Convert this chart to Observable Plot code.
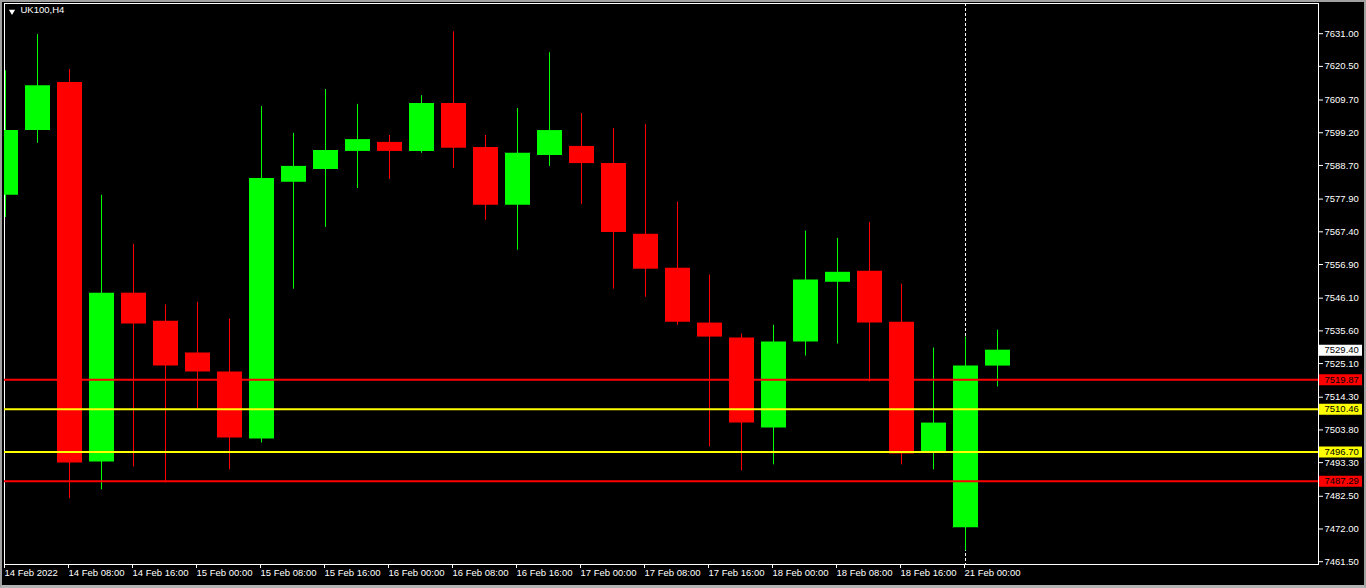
<!DOCTYPE html>
<html><head><meta charset="utf-8">
<script src="https://cdn.jsdelivr.net/npm/d3@7"></script>
<script src="https://cdn.jsdelivr.net/npm/@observablehq/plot@0.6"></script>
<style>
html,body{margin:0;padding:0;background:#000;}
#wrap{position:relative;width:1366px;height:588px;overflow:hidden;background:#000;}
#chrome{position:absolute;left:0;top:0;width:1366px;height:588px;box-sizing:border-box;border-left:2px solid #a0a0a0;border-top:2px solid #a0a0a0;border-right:2px solid #a0a0a0;border-bottom:3px solid #b4b4b4;pointer-events:none;}
svg{display:block;}
</style></head><body>
<div id="wrap"><div id="chart"></div><div id="chrome"></div></div>
<script>
// ---- data (UK100, H4) ----
const barTimes = [
  "14 Feb 00:00","14 Feb 04:00","14 Feb 08:00","14 Feb 12:00","14 Feb 16:00","14 Feb 20:00",
  "15 Feb 00:00","15 Feb 04:00","15 Feb 08:00","15 Feb 12:00","15 Feb 16:00","15 Feb 20:00",
  "16 Feb 00:00","16 Feb 04:00","16 Feb 08:00","16 Feb 12:00","16 Feb 16:00","16 Feb 20:00",
  "17 Feb 00:00","17 Feb 04:00","17 Feb 08:00","17 Feb 12:00","17 Feb 16:00","17 Feb 20:00",
  "18 Feb 00:00","18 Feb 04:00","18 Feb 08:00","18 Feb 12:00","18 Feb 16:00","18 Feb 20:00",
  "21 Feb 00:00","21 Feb 04:00"
];
const opens  = [7579.1,7599.9,7615.3,7493.5,7547.7,7538.7,7528.5,7522.4,7500.9,7583.3,7587.4,7593.2,7596.1,7593.2,7608.6,7594.5,7575.9,7591.9,7594.8,7589.3,7566.6,7555.7,7538.1,7533.3,7504.4,7532.0,7551.2,7554.7,7538.4,7496.4,7472.4,7524.3];
const highs  = [7619.1,7630.7,7619.5,7579.1,7563.4,7543.9,7544.8,7539.4,7607.6,7599.0,7613.1,7608.3,7598.3,7611.1,7631.6,7598.3,7607.0,7624.9,7605.4,7600.6,7601.8,7576.9,7553.5,7534.6,7537.4,7567.6,7565.3,7570.4,7550.6,7530.1,7533.6,7535.8];
const lows   = [7572.0,7595.8,7481.7,7484.6,7491.9,7486.8,7510.5,7491.0,7499.6,7549.0,7568.8,7581.3,7584.2,7592.6,7587.7,7571.1,7561.5,7588.4,7576.2,7549.0,7546.4,7537.4,7498.4,7490.7,7492.6,7527.5,7531.4,7519.2,7492.6,7491.0,7465.0,7517.6];
const closes = [7599.9,7614.3,7493.2,7547.7,7537.8,7524.3,7522.4,7501.2,7584.5,7588.4,7593.5,7597.0,7593.2,7608.6,7594.2,7575.9,7592.6,7599.9,7589.3,7567.2,7555.4,7538.4,7533.6,7506.0,7532.0,7551.9,7554.4,7538.1,7496.1,7506.0,7524.3,7529.4];

const xTickIndex  = [0,2,4,6,8,10,12,14,16,18,20,22,24,26,28,30];
const xTickLabels = ["14 Feb 2022","14 Feb 08:00","14 Feb 16:00","15 Feb 00:00","15 Feb 08:00","15 Feb 16:00","16 Feb 00:00","16 Feb 08:00","16 Feb 16:00","17 Feb 00:00","17 Feb 08:00","17 Feb 16:00","18 Feb 00:00","18 Feb 08:00","18 Feb 16:00","21 Feb 00:00"];
const yTicks = [7631.00,7620.50,7609.70,7599.20,7588.70,7577.90,7567.40,7556.90,7546.10,7535.60,7525.10,7514.30,7503.80,7493.30,7482.50,7472.00,7461.50];

const levelPrices = [7519.87, 7510.46, 7496.70, 7487.29];
const levelColors = ["#ff0000", "#ffff00", "#ffff00", "#ff0000"];
const currentPrice = 7529.40;
const separatorIndex = 30;
const symbolTitle = "UK100,H4";

// ---- build ----
const bars = barTimes.map((t, i) => ({i, t, open: opens[i], high: highs[i], low: lows[i], close: closes[i]}));
const bulls = bars.filter(d => d.close >= d.open);
const bears = bars.filter(d => d.close < d.open);
const levels = levelPrices.map((p, k) => ({price: p, color: levelColors[k]}));
const priceTags = levels.concat([{price: currentPrice, color: "#ffffff"}]);
const tickLabelByIndex = new Map(xTickIndex.map((v, k) => [v, xTickLabels[k]]));

// layout
const W = 1366, H = 588;
const mL = 4, mR = 48, mT = 3, mB = 24;
const barStep = 32;                       // px between bars
const plotW = W - mL - mR;
const xDomain = [-1 / barStep, (plotW - 1) / barStep];
const yDomain = [7460.6, 7640.69];
const bull = "#00ff00", bear = "#ff0000";
const font = "'Liberation Sans', Arial, sans-serif";
const fs = 9.5;

const chart = Plot.plot({
  width: W, height: H,
  marginLeft: mL, marginRight: mR, marginTop: mT, marginBottom: mB,
  style: {background: "#000", color: "#fff", fontFamily: font, fontSize: fs + "px"},
  x: {type: "linear", domain: xDomain, axis: null},
  y: {type: "linear", domain: yDomain, axis: null},
  color: {type: "identity"},
  marks: [
    Plot.frame({stroke: "#fff"}),
    Plot.ruleX([separatorIndex], {x: d => d, stroke: "#fff", strokeDasharray: "3,2"}),
    // wicks
    Plot.ruleX(bulls, {x: "i", y1: "low", y2: "high", stroke: bull, strokeWidth: 1, clip: true}),
    Plot.ruleX(bears, {x: "i", y1: "low", y2: "high", stroke: bear, strokeWidth: 1, clip: true}),
    // bodies
    Plot.ruleX(bulls, {x: "i", y1: "open", y2: "close", stroke: bull, strokeWidth: 25, clip: true}),
    Plot.ruleX(bears, {x: "i", y1: "open", y2: "close", stroke: bear, strokeWidth: 25, clip: true}),
    // horizontal levels
    Plot.ruleY(levels, {y: "price", stroke: "color", strokeWidth: 2}),
    // axes
    Plot.axisY(yTicks, {anchor: "right", tickSize: 4, tickPadding: 2, tickFormat: d => d.toFixed(2), stroke: "#fff", fill: "#fff", fontSize: fs, label: null}),
    Plot.axisX(xTickIndex, {anchor: "bottom", tickSize: 4, tickPadding: 1, tickFormat: d => tickLabelByIndex.get(d), textAnchor: "start", dx: -1, stroke: "#fff", fill: "#fff", fontSize: fs, label: null}),
    // price tags on the axis
    Plot.ruleY(priceTags, {y: "price", x1: () => xDomain[1] + 1 / barStep, x2: () => xDomain[1] + 44 / barStep, stroke: "color", strokeWidth: 11, clip: false}),
    Plot.text(priceTags, {y: "price", text: d => d.price.toFixed(2), frameAnchor: "right", textAnchor: "start", dx: 6, fill: "#000", fontSize: fs}),
    // title
    Plot.dot([0], {frameAnchor: "top-left", dx: 7.5, dy: 8, symbol: "triangle", r: 2.3, rotate: 180, fill: "#fff", stroke: null}),
    Plot.text([symbolTitle], {frameAnchor: "top-left", dx: 16, dy: 3, lineAnchor: "top", textAnchor: "start", fill: "#fff", fontSize: fs})
  ]
});
document.getElementById("chart").appendChild(chart);
</script>
</body></html>
